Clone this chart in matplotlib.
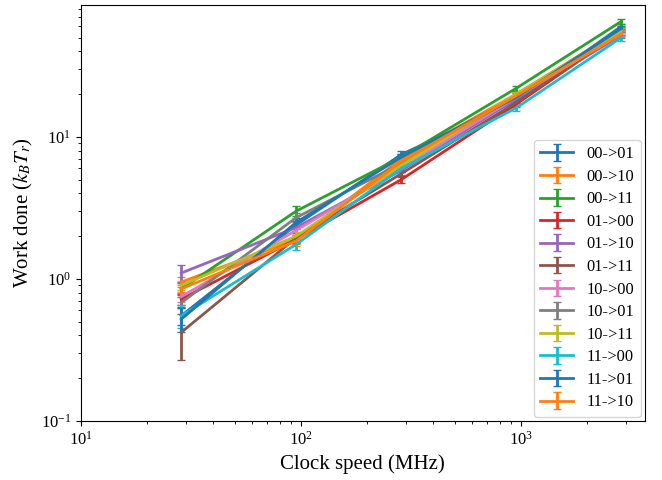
import numpy as np
import matplotlib
matplotlib.use('Agg')
import matplotlib.pyplot as plt

plt.rcParams['font.family'] = 'serif'
plt.rcParams['font.serif'] = ['Liberation Serif', 'DejaVu Serif']
plt.rcParams['mathtext.fontset'] = 'stix'

# clock speeds (MHz)
clock = [28.6, 95.2, 285.7, 952.4, 2857.1]

labels = ['00->01', '00->10', '00->11', '01->00', '01->10', '01->11',
          '10->00', '10->01', '10->11', '11->00', '11->01', '11->10']

# work done per transition (k_B T_r)
w_00_01 = [0.55, 2.40, 7.5, 18.0, 60.0]
w_00_10 = [0.95, 1.90, 7.0, 20.0, 57.0]
w_00_11 = [0.85, 3.00, 7.2, 22.0, 65.0]
w_01_00 = [0.72, 1.90, 5.0, 17.0, 55.0]
w_01_10 = [1.10, 2.30, 5.8, 18.5, 52.0]
w_01_11 = [0.42, 1.95, 5.5, 17.5, 55.0]
w_10_00 = [0.75, 2.20, 6.0, 19.0, 54.0]
w_10_01 = [0.68, 2.70, 6.5, 19.5, 57.0]
w_10_11 = [0.90, 2.00, 6.3, 20.0, 56.0]
w_11_00 = [0.55, 1.75, 6.0, 16.0, 50.0]
w_11_01 = [0.52, 2.50, 7.2, 19.0, 58.0]
w_11_10 = [0.85, 1.85, 6.7, 19.5, 53.0]

# errors
e_00_01 = [0.08, 0.15, 0.4, 0.8, 2.5]
e_00_10 = [0.08, 0.15, 0.4, 0.8, 2.5]
e_00_11 = [0.08, 0.25, 0.4, 0.9, 3.0]
e_01_00 = [0.06, 0.12, 0.3, 0.8, 2.5]
e_01_10 = [0.15, 0.20, 0.4, 0.8, 2.5]
e_01_11 = [0.15, 0.15, 0.3, 0.8, 2.5]
e_10_00 = [0.06, 0.15, 0.3, 0.8, 2.5]
e_10_01 = [0.06, 0.20, 0.3, 0.8, 2.5]
e_10_11 = [0.06, 0.15, 0.3, 0.8, 2.5]
e_11_00 = [0.10, 0.15, 0.3, 0.8, 2.5]
e_11_01 = [0.10, 0.20, 0.4, 0.8, 2.5]
e_11_10 = [0.06, 0.15, 0.3, 0.8, 2.5]

work = [w_00_01, w_00_10, w_00_11, w_01_00, w_01_10, w_01_11,
        w_10_00, w_10_01, w_10_11, w_11_00, w_11_01, w_11_10]
errs = [e_00_01, e_00_10, e_00_11, e_01_00, e_01_10, e_01_11,
        e_10_00, e_10_01, e_10_11, e_11_00, e_11_01, e_11_10]

fig = plt.figure(figsize=(6.62, 4.8), dpi=100)
ax = fig.add_axes([0.122, 0.123, 0.852, 0.867])

for lab, w, e in zip(labels, work, errs):
    ax.errorbar(clock, w, yerr=e, label=lab, lw=2, capsize=3, elinewidth=2)

ax.set_xscale('log')
ax.set_yscale('log')
ax.set_xlim(10, 3650)
ax.set_ylim(0.1, 85)
ax.tick_params(labelsize=12)
ax.set_xlabel('Clock speed (MHz)', fontsize=15)
ax.set_ylabel('Work done ($k_BT_r$)', fontsize=15)
ax.legend(loc='lower right', fontsize=11.8, labelspacing=0.4, borderaxespad=0.25)

fig.savefig('out.png', dpi=100)
